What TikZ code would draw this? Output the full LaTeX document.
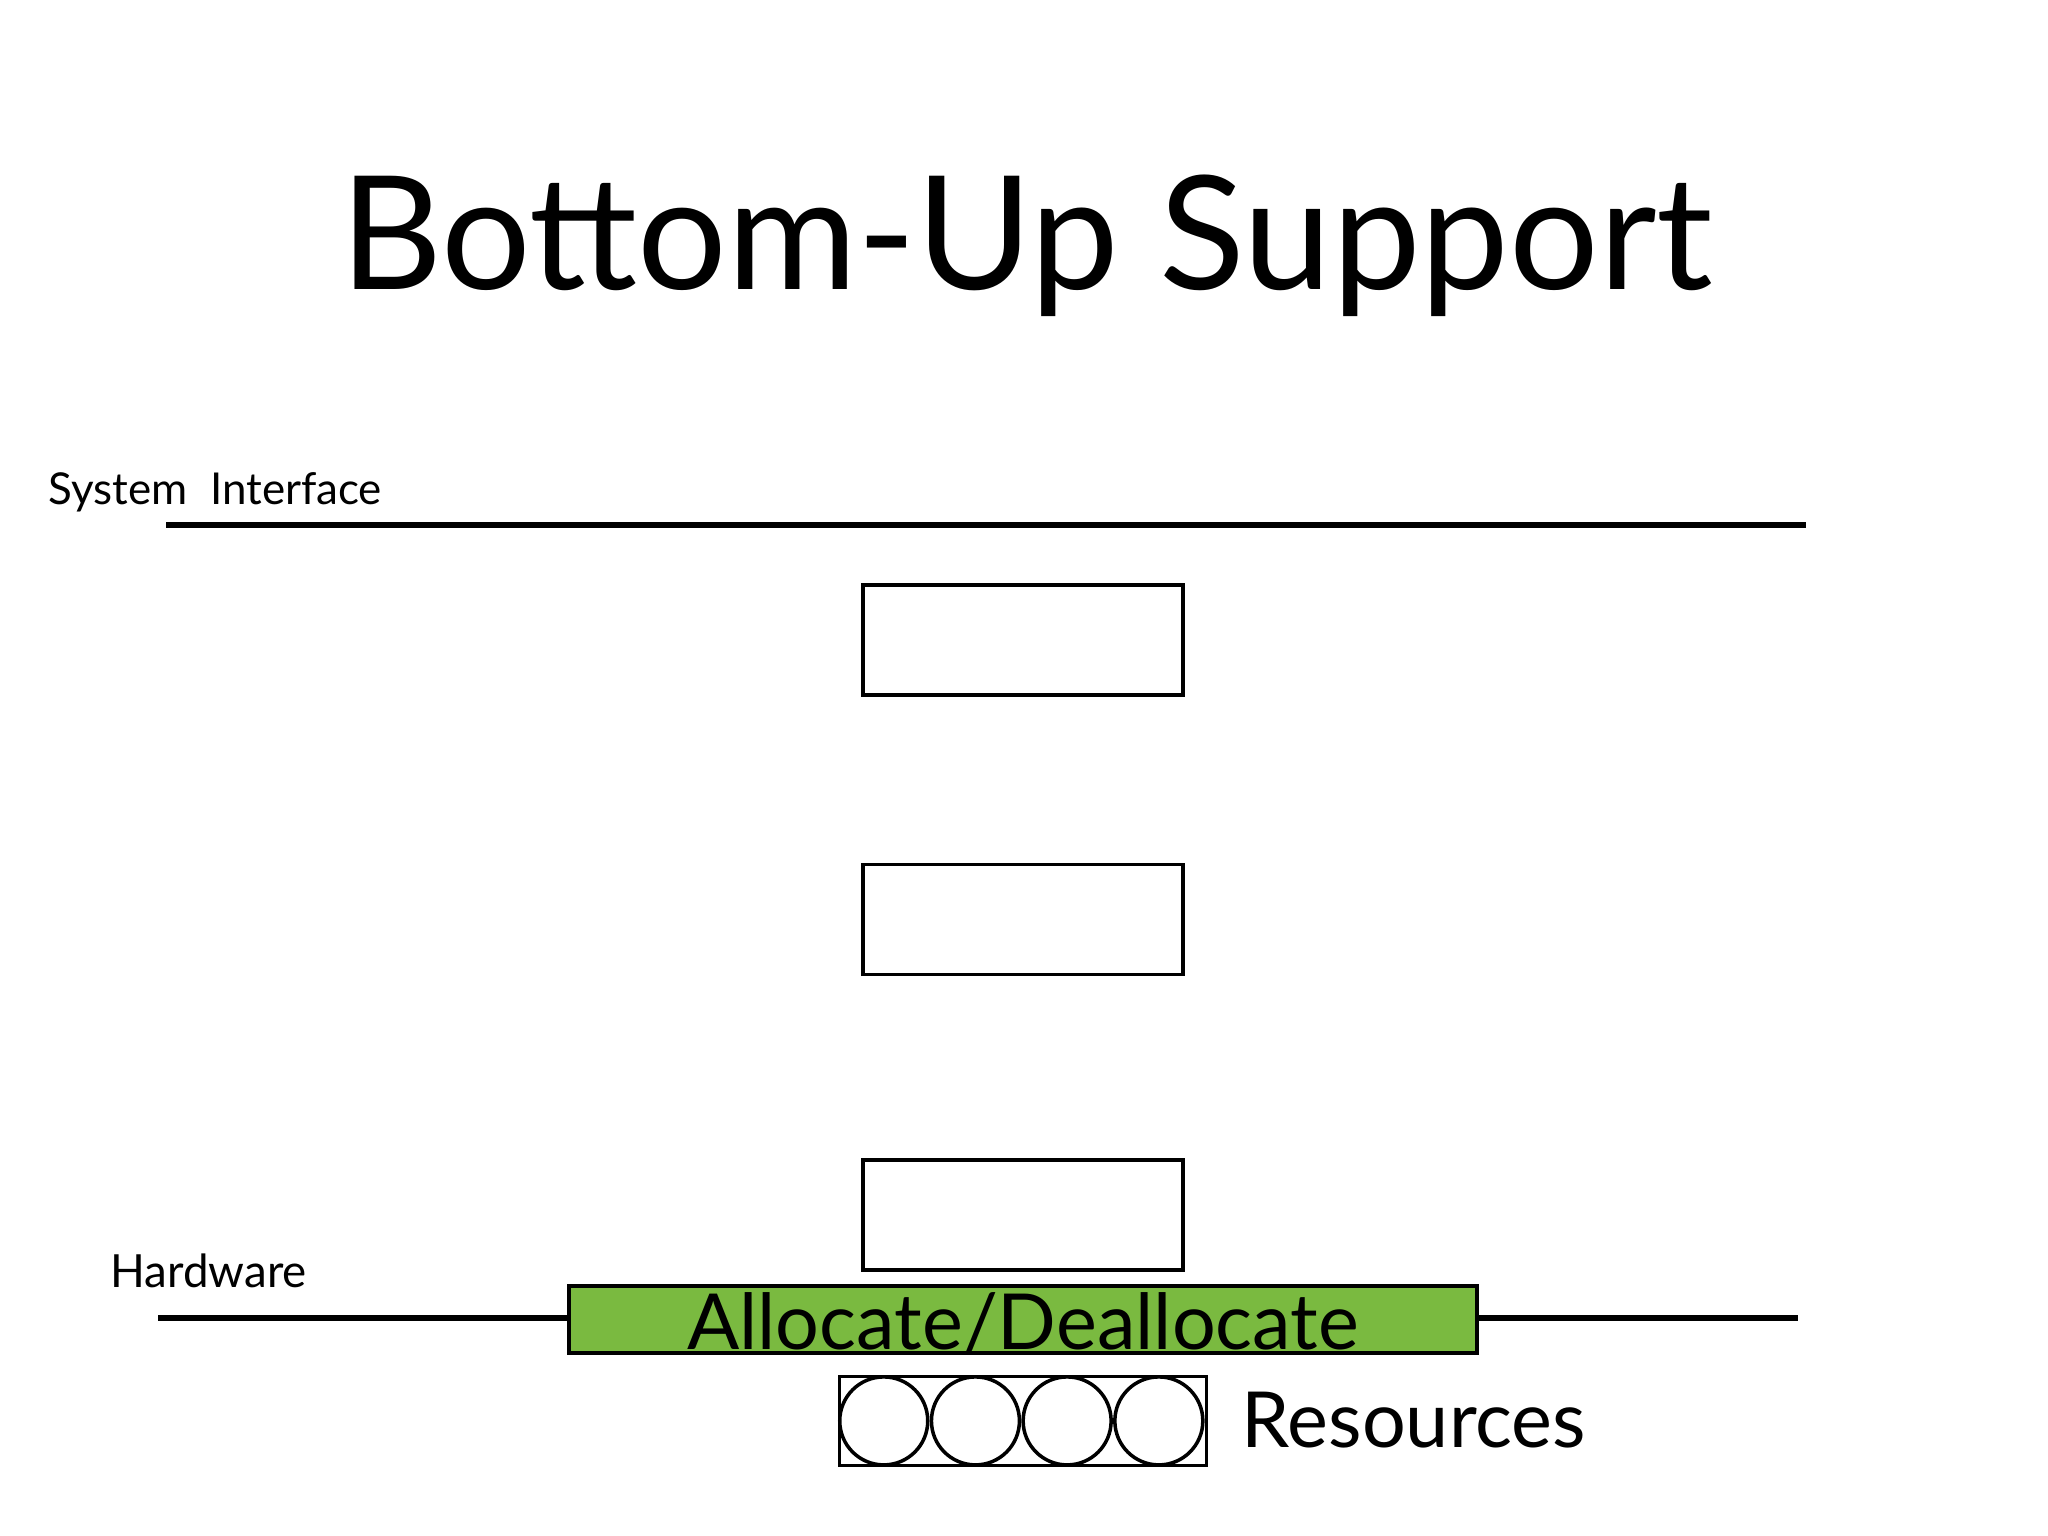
\documentclass[tikz,border=0pt]{standalone}
\usepackage{fontspec}
\setmainfont{Lato}
\usetikzlibrary{positioning}
\definecolor{allocgreen}{RGB}{122,186,64}
\tikzset{node distance=1.6cm, % gap between the layer boxes
layer/.style={ % empty boxes between interface and hardware
draw, line width=1pt, minimum width=3.2cm, minimum height=1.1cm, inner sep=0pt},
bar/.style={ % the allocate/deallocate strip
draw, line width=1.1pt, fill=allocgreen, minimum width=9.08cm, minimum height=0.67cm, inner sep=0pt},
slot/.style={ % one resource
draw, circle, line width=1pt, minimum size=0.88cm, inner sep=0pt},
label text/.style={inner sep=0pt},
boundary/.style={line width=1.7pt}}

\begin{document}
\begin{tikzpicture}
    \useasboundingbox (0,0) rectangle (20.48,-15.36);
    \node[label text, anchor=base, font=\fontsize{45}{50}\selectfont] (title) at (10.265,-2.90) {Bottom-Up Support};
    \node[label text, anchor=base west, font=\fontsize{12.5}{15}\selectfont] (sys) at (0.48,-5.05) {System\ \ Interface};
    \coordinate (sysL) at (1.66,-5.25);
    \coordinate (sysR) at (18.06,-5.25);
    \draw[boundary] (sysL) -- (sysR);
    \node[layer] (box1) at (10.23,-6.40) {};
    \node[layer, below=1.66cm of box1] (box2) {};
    \node[layer, below=1.82cm of box2] (box3) {};
    \node[bar, below=0.12cm of box3] (alloc) {};
    \node[label text, anchor=base, font=\fontsize{22}{24}\selectfont] (alloctext) at (10.23,-13.49) {Allocate/Deallocate};
    \node[label text, anchor=base west, font=\fontsize{13}{15}\selectfont] (hw) at (1.10,-12.87) {Hardware};
    \coordinate (hwL) at (1.58,-13.18);
    \coordinate (hwR) at (17.98,-13.18);
    \draw[boundary] (hwL) -- (hwL -| alloc.west);
    \draw[boundary] (hwR -| alloc.east) -- (hwR);
    \node[draw, line width=1pt, minimum width=3.67cm, minimum height=0.89cm, inner sep=0pt, below=0.2cm of alloc] (pool) {};
    \foreach \i in {0,...,3}
        \node[slot] (res\i) at ([xshift=0.46cm+\i*0.917cm]pool.west) {};
    \node[label text, anchor=base west, font=\fontsize{22}{24}\selectfont] (restext) at (12.41,-14.47) {Resources};
\end{tikzpicture}
\end{document}
